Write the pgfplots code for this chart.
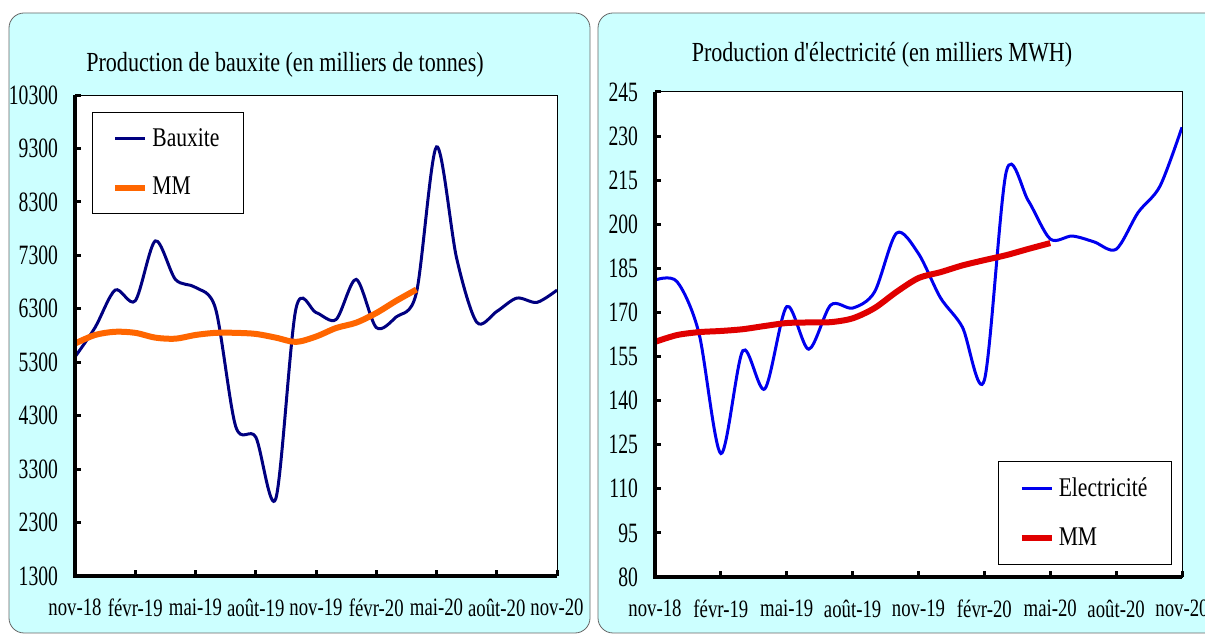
\documentclass[border=0pt]{standalone}
\usepackage{fontspec}
\setmainfont{Liberation Serif}[FakeStretch=0.8, Ligatures=TeXOff]
\newfontfamily\tickfont{Liberation Serif}[FakeStretch=0.75]
\newfontfamily\ytickfont{Liberation Serif}[FakeStretch=0.7]
\usepackage{pgfplots}
\pgfplotsset{compat=1.18}

\definecolor{panelbg}{HTML}{CCFFFF}
\definecolor{bauxblue}{HTML}{000080}
\definecolor{mmorange}{HTML}{FF6600}
\definecolor{elecblue}{HTML}{0000EE}
\definecolor{mmred}{HTML}{E00000}

\pgfplotsset{
  panel/.style={
    scale only axis,
    xmin=0, xmax=24,
    xtick={0,3,...,24},
    xticklabels={nov-18,févr-19,mai-19,août-19,nov-19,févr-20,mai-20,août-20,nov-20},
    xtick pos=bottom, ytick pos=left,
    tick align=inside,
    major tick length=3pt,
    every tick/.style={black, line width=1.5pt},
    axis line style={black, line width=0.5pt},
    axis background/.style={fill=white},
    scaled y ticks=false,
    xticklabel style={font=\tickfont\fontsize{12.5}{14}\selectfont, yshift=-8pt},
    yticklabel style={font=\ytickfont\fontsize{14}{16}\selectfont, xshift=-5pt},
    /pgf/number format/assume math mode=true,
    /pgf/number format/1000 sep={},
    legend cell align=left,
    legend image code/.code={\draw[##1] (0pt,0pt) -- (15pt,0pt);},
    legend style={draw=black, line width=0.5pt, fill=white,
      font=\fontsize{13.5}{15}\selectfont, row sep=10pt,
      inner xsep=10pt, inner ysep=6pt},
  }
}

\begin{document}
\begin{tikzpicture}
% panel backgrounds
\filldraw[fill=panelbg, draw=black!60, rounded corners=7.5pt] (4.5pt,-6.5pt) rectangle (295pt,-316.5pt);
\filldraw[fill=panelbg, draw=black!60, rounded corners=7.5pt] (299pt,-6.5pt) rectangle (612pt,-316.5pt);

\node[font=\fontsize{13.8}{15}\selectfont] at (142.5pt,-32.5pt) {Production de bauxite (en milliers de tonnes)};
\node[font=\fontsize{13.8}{15}\selectfont] at (441pt,-27.5pt) {Production d'électricité (en milliers MWH)};

% bauxite
\begin{axis}[panel, name=L,
  at={(37.5pt,-288pt)}, anchor=south west,
  width=241pt, height=240.5pt,
  ymin=1300, ymax=10300, ytick={1300,2300,...,10300},
  legend style={at={(0.035,0.965)}, anchor=north west}]
\addplot[bauxblue, line width=1.5pt, smooth] coordinates {
  (0,5400) (1,5950) (2,6650) (3,6450) (4,7570) (5,6850) (6,6700) (7,6300)
  (8,4100) (9,3900) (10,2750) (11,6300) (12,6230) (13,6100) (14,6850)
  (15,5950) (16,6150) (17,6600) (18,9330) (19,7250) (20,6050) (21,6250)
  (22,6500) (23,6420) (24,6650)
};
\addlegendentry{Bauxite}
\addplot[mmorange, line width=3pt, smooth] coordinates {
  (0,5650) (1,5810) (2,5870) (3,5850) (4,5760) (5,5740) (6,5810) (7,5850)
  (8,5850) (9,5830) (10,5760) (11,5680) (12,5780) (13,5940) (14,6040)
  (15,6220) (16,6450) (17,6660)
};
\addlegendentry{MM}
\end{axis}
\draw[line width=2pt] (L.north west) -- (L.south west) -- (L.south east);

% electricity
\begin{axis}[panel, name=R,
  at={(327.5pt,-288.5pt)}, anchor=south west,
  width=263.5pt, height=242.5pt,
  ymin=80, ymax=245, ytick={80,95,...,245},
  legend style={at={(0.981,0.025)}, anchor=south east}]
\addplot[elecblue, line width=1.5pt, smooth] coordinates {
  (0,181) (1,180.5) (2,163) (3,122) (4,157) (5,144) (6,172) (7,157.5)
  (8,172.5) (9,171.5) (10,177) (11,197) (12,190) (13,175) (14,165)
  (15,147) (16,218) (17,208) (18,195) (19,196) (20,194) (21,191.5)
  (22,204) (23,213) (24,233)
};
\addlegendentry{Electricité}
\addplot[mmred, line width=3pt, smooth] coordinates {
  (0,160) (1,162.3) (2,163.3) (3,163.7) (4,164.3) (5,165.4) (6,166.4)
  (7,166.6) (8,166.7) (9,168) (10,171.5) (11,177) (12,181.7) (13,183.7)
  (14,186) (15,187.8) (16,189.5) (17,191.6) (18,193.6)
};
\addlegendentry{MM}
\end{axis}
\draw[line width=2pt] (R.north west) -- (R.south west) -- (R.south east);

\pgfresetboundingbox
\path (0pt,0pt) rectangle (602.5pt,-317.5pt);
\end{tikzpicture}
\end{document}
